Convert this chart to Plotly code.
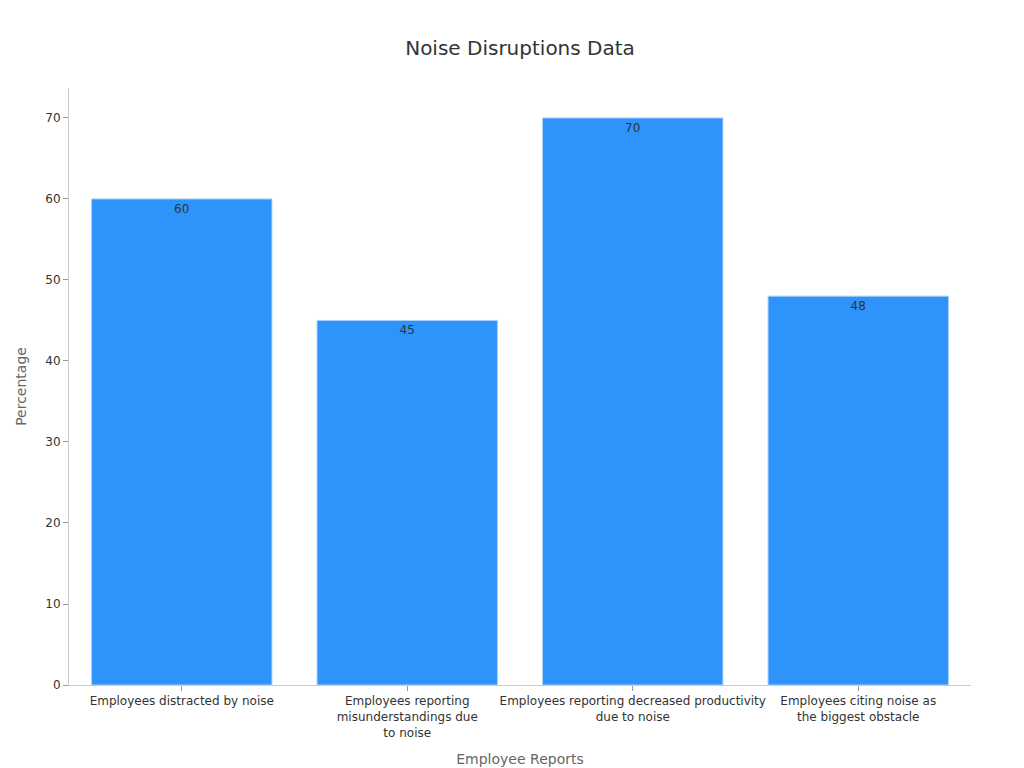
import plotly.graph_objects as go

categories = [
    "Employees distracted by noise",
    "Employees reporting<br>misunderstandings due<br>to noise",
    "Employees reporting decreased productivity<br>due to noise",
    "Employees citing noise as<br>the biggest obstacle",
]
percentages = [60, 45, 70, 48]

fig = go.Figure()
fig.add_trace(go.Bar(
    x=categories,
    y=percentages,
    text=percentages,
    textposition="inside",
    insidetextanchor="end",
    textfont=dict(color="#333333", size=12),
    marker=dict(color="#2E93FA", line=dict(color="#A8CFF8", width=1)),
    width=0.8,
))

fig.update_layout(
    width=1024,
    height=768,
    title=dict(text="Noise Disruptions Data", x=0.5, y=0.957, font=dict(size=20, color="#333333")),
    font=dict(family="DejaVu Sans", color="#333333"),
    plot_bgcolor="white",
    paper_bgcolor="white",
    margin=dict(l=61, r=61, t=80, b=91),
    showlegend=False,
    xaxis=dict(
        title=dict(text="Employee Reports", font=dict(size=14, color="#666666")),
        tickfont=dict(size=12),
        showline=True, linecolor="#cccccc",
        ticks="outside", tickcolor="#999999", ticklen=5,
    ),
    yaxis=dict(
        title=dict(text="Percentage", font=dict(size=14, color="#666666")),
        range=[0, 73.7],
        dtick=10,
        tickfont=dict(size=12),
        showgrid=False,
        zeroline=False,
        showline=True, linecolor="#cccccc",
        ticks="outside", tickcolor="#999999", ticklen=5,
    ),
)

fig.write_html("out.html")
